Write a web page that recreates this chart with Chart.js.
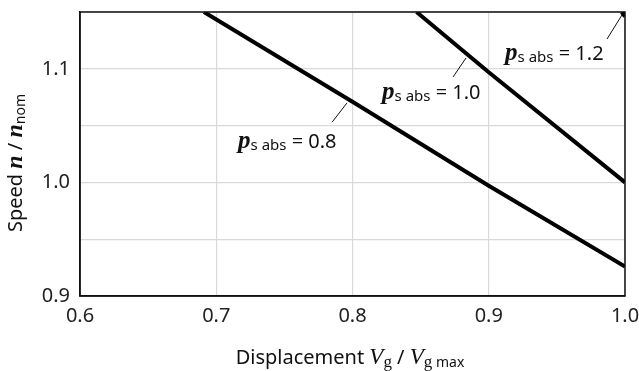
<!DOCTYPE html>
<html><head><meta charset="utf-8">
<script src="https://cdn.jsdelivr.net/npm/chart.js@4/dist/chart.umd.min.js"></script>
<style>html,body{margin:0;padding:0;background:#fff}#wrap{width:639px;height:371px}</style>
</head><body><div id="wrap"><canvas id="c" width="639" height="371"></canvas></div>
<script>
// Data
const curveLabels = ["0.8", "1.0", "1.2"];
const s08x = [0.691, 0.8, 0.9, 1.0];
const s08y = [1.15, 1.071, 0.997, 0.926];
const s10x = [0.847, 0.9, 1.0];
const s10y = [1.15, 1.097, 1.0];
const s12x = [0.9976, 1.0];
const s12y = [1.15, 1.146];
const xTicks = [0.6, 0.7, 0.8, 0.9, 1.0];
const yTickLabels = [0.9, 1.0, 1.1];

const SANS = '"Noto Sans", "DejaVu Sans", sans-serif';
const SERIF = '"Liberation Serif", "DejaVu Serif", serif';

function pts(xs, ys){ return xs.map((x,i)=>({x:x,y:ys[i]})); }

// label annotations: text anchor (left, middle) and leader line endpoints in data units
const notes = [
  {t:curveLabels[0], tx:0.716, ty:1.0364, l:[0.785,1.053,0.796,1.070]},
  {t:curveLabels[1], tx:0.8217, ty:1.0796, l:[0.8738,1.0928,0.8833,1.1095]},
  {t:curveLabels[2], tx:0.912, ty:1.1139, l:[0.9868,1.1262,0.9978,1.1474]}
];

const deco = {
  id:'deco',
  afterDraw(chart){
    const ctx = chart.ctx, a = chart.chartArea, xs = chart.scales.x, ys = chart.scales.y;
    ctx.save();
    // frame
    ctx.strokeStyle = '#111'; ctx.lineWidth = 1.5;
    ctx.strokeRect(a.left, a.top, a.right-a.left, a.bottom-a.top);
    // annotations
    ctx.fillStyle = '#111'; ctx.textBaseline = 'alphabetic'; ctx.textAlign = 'left';
    notes.forEach(n=>{
      ctx.strokeStyle = '#111'; ctx.lineWidth = 1;
      ctx.beginPath();
      ctx.moveTo(xs.getPixelForValue(n.l[0]), ys.getPixelForValue(n.l[1]));
      ctx.lineTo(xs.getPixelForValue(n.l[2]), ys.getPixelForValue(n.l[3]));
      ctx.stroke();
      let x = xs.getPixelForValue(n.tx), y = ys.getPixelForValue(n.ty) + 7;
      ctx.font = 'bold italic 25px ' + SERIF;
      ctx.fillText('p', x, y); x += ctx.measureText('p').width;
      ctx.font = '15px ' + SANS;
      ctx.fillText('s abs', x, y + 2); x += ctx.measureText('s abs').width;
      ctx.font = '20px ' + SANS;
      ctx.fillText(' = ' + n.t, x, y);
    });
    // x axis title
    const parts = [
      ['Displacement ', '20px ' + SANS, 0],
      ['V', 'italic 23px ' + SERIF, 0],
      ['g', '17px ' + SERIF, 3],
      [' / ', '20px ' + SANS, 0],
      ['V', 'italic 23px ' + SERIF, 0],
      ['g', '17px ' + SERIF, 3],
      [' max', '14px ' + SANS, 3]
    ];
    let w = 0;
    parts.forEach(p=>{ ctx.font = p[1]; w += ctx.measureText(p[0]).width; });
    let x0 = 350 - w/2, yb = 364;
    parts.forEach(p=>{ ctx.font = p[1]; ctx.fillText(p[0], x0, yb + p[2]); x0 += ctx.measureText(p[0]).width; });
    // y axis title (rotated)
    const yparts = [
      ['Speed ', '20px ' + SANS, 0],
      ['n', 'bold italic 24px ' + SERIF, 0],
      [' / ', '20px ' + SANS, 0],
      ['n', 'bold italic 24px ' + SERIF, 0],
      ['nom', '14px ' + SANS, 3]
    ];
    w = 0;
    yparts.forEach(p=>{ ctx.font = p[1]; w += ctx.measureText(p[0]).width; });
    ctx.translate(22, 163);
    ctx.rotate(-Math.PI/2);
    let xx = -w/2;
    yparts.forEach(p=>{ ctx.font = p[1]; ctx.fillText(p[0], xx, p[2]); xx += ctx.measureText(p[0]).width; });
    ctx.restore();
  }
};

new Chart(document.getElementById('c'), {
  type:'scatter',
  data:{
    datasets:[
      {label:'p s abs = ' + curveLabels[0], data:pts(s08x,s08y)},
      {label:'p s abs = ' + curveLabels[1], data:pts(s10x,s10y)},
      {label:'p s abs = ' + curveLabels[2], data:pts(s12x,s12y)}
    ].map(d=>Object.assign(d,{showLine:true, borderColor:'#000', backgroundColor:'#000', borderWidth:4, pointRadius:0, tension:0, clip:0}))
  },
  options:{
    responsive:false, animation:false,
    layout:{padding:{top:12, right:14, left:0, bottom:0}},
    plugins:{legend:{display:false}, tooltip:{enabled:false}},
    scales:{
      x:{
        type:'linear', min:0.6, max:1.0,
        afterFit(s){ s.height = 75; s.paddingLeft = 0; s.paddingRight = 0; },
        afterBuildTicks(s){ s.ticks = xTicks.map(v=>({value:v})); },
        ticks:{padding:8, color:'#222', font:{family:SANS, size:20}, callback:v=>Number(v).toFixed(1)},
        grid:{color:'#d9d9d9', lineWidth:1.2, drawTicks:false},
        border:{color:'#111', width:1.5}
      },
      y:{
        type:'linear', min:0.9, max:1.15,
        afterFit(s){ s.width = 80; s.paddingTop = 0; s.paddingBottom = 0; },
        ticks:{stepSize:0.05, padding:10, color:'#222', font:{family:SANS, size:20},
          callback:v=>{ const r = Math.round(v*100)/100; return yTickLabels.some(t=>Math.abs(t-r)<1e-6) ? r.toFixed(1) : ''; }},
        grid:{color:'#d9d9d9', lineWidth:1.2, drawTicks:false},
        border:{color:'#111', width:1.5}
      }
    }
  },
  plugins:[deco]
});
</script>
</body></html>
